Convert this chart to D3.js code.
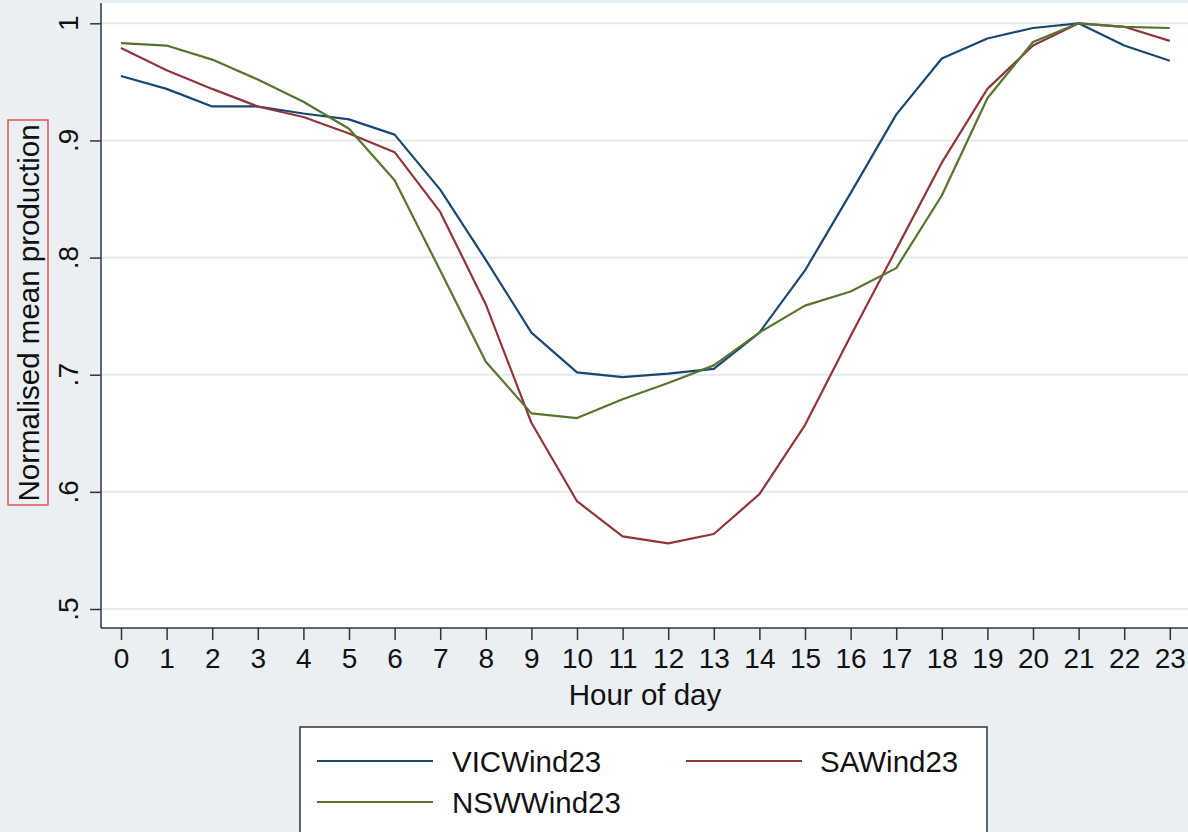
<!DOCTYPE html>
<html>
<head>
<meta charset="utf-8">
<script src="https://cdn.jsdelivr.net/npm/d3@7"></script>
<style>
  body { margin: 0; background: #e9eff2; }
  text { font-family: "Liberation Sans", Arial, Helvetica, sans-serif; fill: #111; }
</style>
</head>
<body>
<div id="chart"></div>
<script>
// Hour of day (x categories)
const hours = [0, 1, 2, 3, 4, 5, 6, 7, 8, 9, 10, 11, 12, 13, 14, 15, 16, 17, 18, 19, 20, 21, 22, 23];

// Normalised mean production per state
const vicWind = [0.955, 0.944, 0.929, 0.929, 0.923, 0.918, 0.905, 0.858, 0.798, 0.736, 0.702, 0.698,
  0.701, 0.705, 0.736, 0.789, 0.855, 0.922, 0.970, 0.987, 0.996, 1.0, 0.981, 0.968];
const saWind = [0.979, 0.960, 0.944, 0.929, 0.920, 0.906, 0.890, 0.839, 0.760, 0.659, 0.592, 0.562,
  0.556, 0.564, 0.598, 0.657, 0.733, 0.807, 0.881, 0.944, 0.981, 1.0, 0.997, 0.985];
const nswWind = [0.983, 0.981, 0.969, 0.952, 0.933, 0.910, 0.866, 0.789, 0.711, 0.667, 0.663, 0.679,
  0.693, 0.708, 0.736, 0.759, 0.771, 0.791, 0.853, 0.936, 0.984, 1.0, 0.997, 0.996];

// Y axis ticks and their labels
const yTicks = [0.5, 0.6, 0.7, 0.8, 0.9, 1];
const yTickLabels = [".5", ".6", ".7", ".8", ".9", "1"];

const seriesNames = ["VICWind23", "SAWind23", "NSWWind23"];
const seriesColors = ["#1a476f", "#90353b", "#55752f"];
const seriesValues = [vicWind, saWind, nswWind];

const W = 1188, H = 832;
const plot = { left: 101, right: 1195, top: 3, bottom: 628 };

const x = d3.scaleLinear().domain([0, 23]).range([121, 1169.8]);
const y = d3.scaleLinear().domain([0.5, 1]).range([609, 23.3]);

const svg = d3.select("#chart").append("svg")
  .attr("width", W)
  .attr("height", H);

svg.append("rect")
  .attr("width", W).attr("height", H)
  .attr("fill", "#e9eff2");

// White plot region
svg.append("rect")
  .attr("x", plot.left).attr("y", plot.top)
  .attr("width", plot.right - plot.left).attr("height", plot.bottom - plot.top)
  .attr("fill", "#ffffff");

// Horizontal grid lines
svg.append("g")
  .selectAll("line")
  .data(yTicks)
  .enter()
  .append("line")
  .attr("x1", plot.left).attr("x2", plot.right)
  .attr("y1", (d) => y(d)).attr("y2", (d) => y(d))
  .attr("stroke", "#e3eaee")
  .attr("stroke-width", 2);

// Y axis
const yAxis = svg.append("g")
  .attr("transform", `translate(${plot.left},0)`)
  .call(d3.axisLeft(y).tickValues(yTicks).tickSize(11).tickFormat(""));
yAxis.select(".domain").attr("d", `M0,${plot.top}V${plot.bottom}`);
yAxis.selectAll("path, line").attr("stroke", "#333").attr("stroke-width", 1.5);

svg.append("g")
  .selectAll("text")
  .data(yTicks)
  .enter()
  .append("text")
  .attr("transform", (d) => `translate(78,${y(d)}) rotate(-90)`)
  .attr("text-anchor", "middle")
  .style("font-size", "28px")
  .text((d, i) => yTickLabels[i]);

// X axis
const xAxis = svg.append("g")
  .attr("transform", `translate(0,${plot.bottom})`)
  .call(d3.axisBottom(x).tickValues(hours).tickSize(12).tickPadding(8).tickFormat(d3.format("d")));
xAxis.select(".domain").attr("d", `M${plot.left},0H${plot.right}`);
xAxis.selectAll("path, line").attr("stroke", "#333").attr("stroke-width", 1.5);
xAxis.selectAll("text")
  .style("font-size", "28px")
  .style("font-family", '"Liberation Sans", Arial, sans-serif')
  .attr("fill", "#111");

// Axis titles
svg.append("text")
  .attr("x", 645).attr("y", 705)
  .attr("text-anchor", "middle")
  .style("font-size", "29.5px")
  .text("Hour of day");

svg.append("text")
  .attr("transform", "translate(39,313) rotate(-90)")
  .attr("text-anchor", "middle")
  .style("font-size", "29.5px")
  .text("Normalised mean production");

// Red highlight box around the y title
svg.append("rect")
  .attr("x", 8).attr("y", 120)
  .attr("width", 40).attr("height", 385)
  .attr("fill", "none")
  .attr("stroke", "#e5534b")
  .attr("stroke-width", 1.5);

// Series lines
const line = d3.line()
  .x((d, i) => x(hours[i]))
  .y((d) => y(d));

svg.append("g")
  .selectAll("path")
  .data(seriesValues)
  .enter()
  .append("path")
  .attr("d", line)
  .attr("fill", "none")
  .attr("stroke", (d, i) => seriesColors[i])
  .attr("stroke-width", 2.2)
  .attr("stroke-linejoin", "round");

// Legend
svg.append("rect")
  .attr("x", 300).attr("y", 727)
  .attr("width", 687).attr("height", 130)
  .attr("fill", "#ffffff")
  .attr("stroke", "#333")
  .attr("stroke-width", 1.5);

const legendPos = [
  { x: 317, y: 761 },
  { x: 686, y: 761 },
  { x: 317, y: 802 }
];

const legend = svg.append("g")
  .selectAll("g")
  .data(seriesNames)
  .enter()
  .append("g")
  .attr("transform", (d, i) => `translate(${legendPos[i].x},${legendPos[i].y})`);

legend.append("line")
  .attr("x1", 0).attr("x2", 116)
  .attr("stroke", (d, i) => seriesColors[i])
  .attr("stroke-width", 2.2);

legend.append("text")
  .attr("x", (d, i) => (i === 1 ? 134 : 135))
  .attr("y", 10.5)
  .style("font-size", "29.5px")
  .text((d) => d);
</script>
</body>
</html>
